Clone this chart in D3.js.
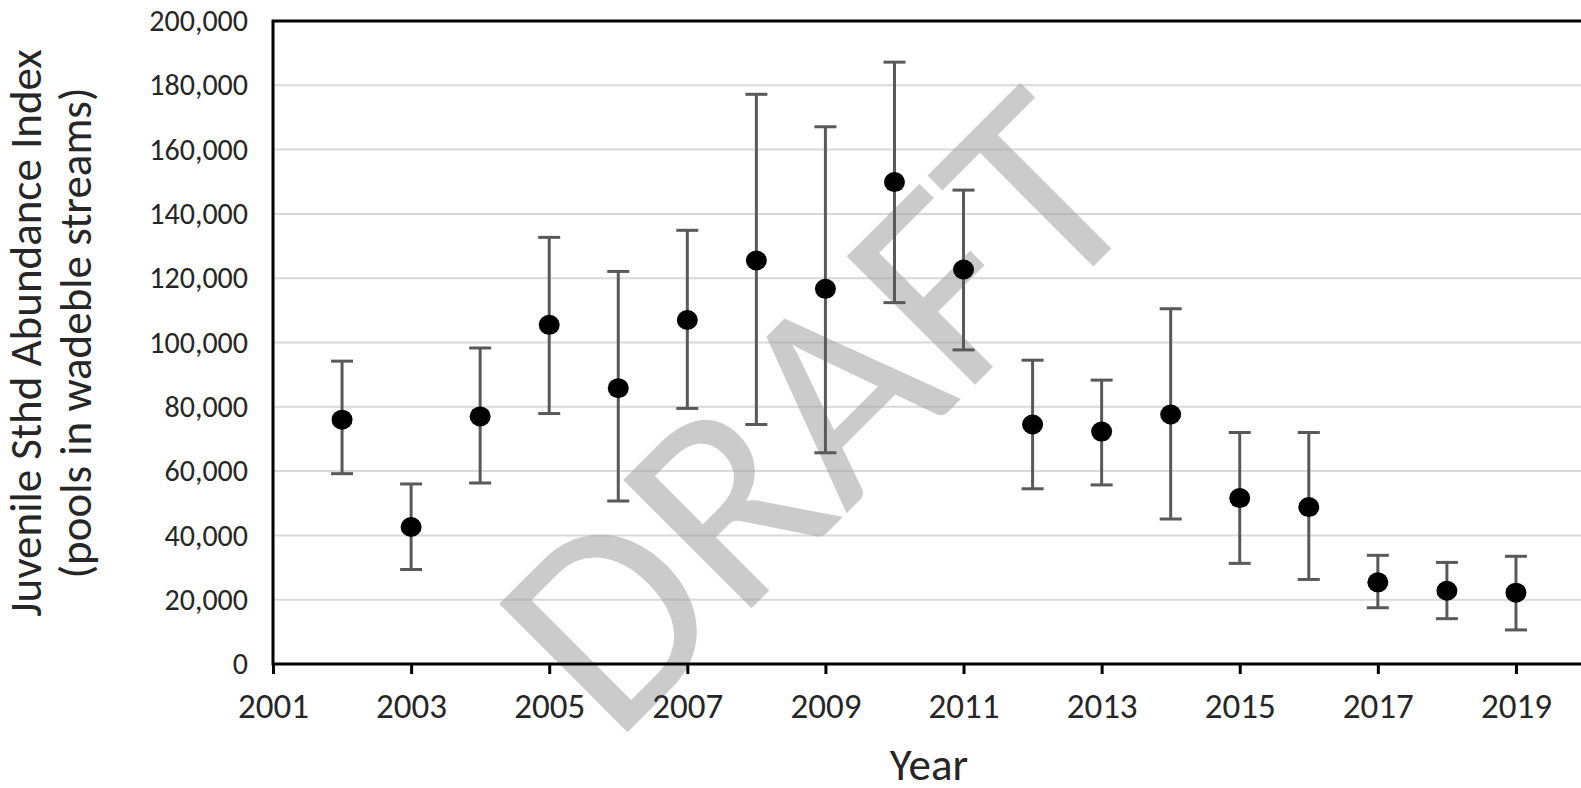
<!DOCTYPE html>
<html>
<head>
<meta charset="utf-8">
<script src="https://cdn.jsdelivr.net/npm/d3@7"></script>
<style>
  body { margin: 0; background: #fff; }
  text { font-family: Carlito, Lato, "Open Sans", sans-serif; }
</style>
</head>
<body>
<script>

// data

const years = [2002, 2003, 2004, 2005, 2006, 2007, 2008, 2009, 2010, 2011,
               2012, 2013, 2014, 2015, 2016, 2017, 2018, 2019];
const abundance = [76000, 42600, 77000, 105500, 85800, 107000, 125500, 116700, 149900, 122700,
                   74500, 72300, 77600, 51600, 48800, 25400, 22800, 22200];
const upperCI = [94200, 56000, 98300, 132700, 122100, 134900, 177200, 167100, 187200, 147400,
                 94500, 88300, 110500, 72000, 72000, 33800, 31600, 33500];
const lowerCI = [59200, 29400, 56300, 77900, 50700, 79500, 74500, 65700, 112400, 97700,
                 54500, 55700, 45100, 31300, 26300, 17500, 14100, 10600];
const xTickYears = [2001, 2003, 2005, 2007, 2009, 2011, 2013, 2015, 2017, 2019];
const yTickValues = [0, 20000, 40000, 60000, 80000, 100000, 120000, 140000, 160000, 180000, 200000];

const data = years.map((y, i) => ({ year: y, v: abundance[i], hi: upperCI[i], lo: lowerCI[i] }));

// dimensions

const dms = {
    width: 1581,
    height: 788,
    margins: { top: 21, left: 273 }
};
dms.innerHeight = 643;
dms.innerWidth = 1312;   // runs past the right edge, like the original

const svg = d3.select("body")
              .append("svg")
                .attr("width", dms.width)
                .attr("height", dms.height);

const g = svg.append("g")
             .attr("transform", `translate(${dms.margins.left},${dms.margins.top})`);

// scales

const xScale = d3.scaleLinear()
                 .domain([2001, 2020])
                 .range([0, dms.innerWidth]);

const yScale = d3.scaleLinear()
                 .domain([0, 200000])
                 .range([dms.innerHeight, 0]);

// gridlines

g.selectAll(".grid")
  .data(yTickValues.filter(d => d > 0 && d < 200000))
  .enter()
  .append("line")
    .attr("x1", 0)
    .attr("x2", dms.innerWidth)
    .attr("y1", d => yScale(d))
    .attr("y2", d => yScale(d))
    .attr("stroke", "#d9d9d9")
    .attr("stroke-width", 2);

// watermark

g.append("text")
  .text("DRAFT")
  .attr("transform", `translate(${xScale(2008.9)},${yScale(78000)}) rotate(-45)`)
  .attr("text-anchor", "middle")
  .attr("dy", "0.32em")
  .style("font-size", "283px")
  .attr("fill", "#a0a0a0")
  .attr("fill-opacity", 0.55);

// axes

const yAxis = d3.axisLeft(yScale)
                .tickValues(yTickValues)
                .tickFormat(d3.format(","))
                .tickSize(0)
                .tickPadding(25);

g.append("g")
  .call(yAxis)
  .call(a => a.select(".domain").remove())
  .selectAll("text")
    .style("font-size", "30px")
    .attr("fill", "#262626");

const xAxis = d3.axisBottom(xScale)
                .tickValues(xTickYears)
                .tickFormat(d3.format("d"))
                .tickSize(10)
                .tickPadding(19);

g.append("g")
  .attr("transform", `translate(0,${dms.innerHeight})`)
  .call(xAxis)
  .call(a => a.select(".domain").remove())
  .call(a => a.selectAll(".tick line").attr("stroke", "#000").attr("stroke-width", 3))
  .selectAll("text")
    .style("font-size", "35px")
    .attr("fill", "#262626");

// frame: left, bottom, top

g.append("path")
  .attr("d", `M${dms.innerWidth},0H0V${dms.innerHeight}H${dms.innerWidth}`)
  .attr("fill", "none")
  .attr("stroke", "#000")
  .attr("stroke-width", 3);

// error bars

const bars = g.selectAll(".err")
              .data(data)
              .enter()
              .append("g");

bars.append("line")
    .attr("x1", d => xScale(d.year))
    .attr("x2", d => xScale(d.year))
    .attr("y1", d => yScale(d.hi))
    .attr("y2", d => yScale(d.lo))
    .attr("stroke", "#595959")
    .attr("stroke-width", 3);

["hi", "lo"].forEach(k => {
    bars.append("line")
        .attr("x1", d => xScale(d.year) - 11)
        .attr("x2", d => xScale(d.year) + 11)
        .attr("y1", d => yScale(d[k]))
        .attr("y2", d => yScale(d[k]))
        .attr("stroke", "#595959")
        .attr("stroke-width", 3);
});

bars.append("ellipse")
    .attr("cx", d => xScale(d.year))
    .attr("cy", d => yScale(d.v))
    .attr("rx", 10.5)
    .attr("ry", 10)
    .attr("fill", "#000");

// axis titles

svg.append("text")
   .attr("x", dms.margins.left + xScale(2010.5))
   .attr("y", 780)
   .attr("text-anchor", "middle")
   .style("font-size", "45px")
   .attr("fill", "#262626")
   .text("Year");

const yTitle = svg.append("text")
   .attr("transform", "translate(0,333) rotate(-90)")
   .attr("text-anchor", "middle")
   .style("font-size", "45px")
   .attr("fill", "#262626");

yTitle.append("tspan").attr("x", 0).attr("y", 41).text("Juvenile Sthd Abundance Index");
yTitle.append("tspan").attr("x", 0).attr("y", 91).text("(pools in wadeble streams)");

</script>
</body>
</html>
